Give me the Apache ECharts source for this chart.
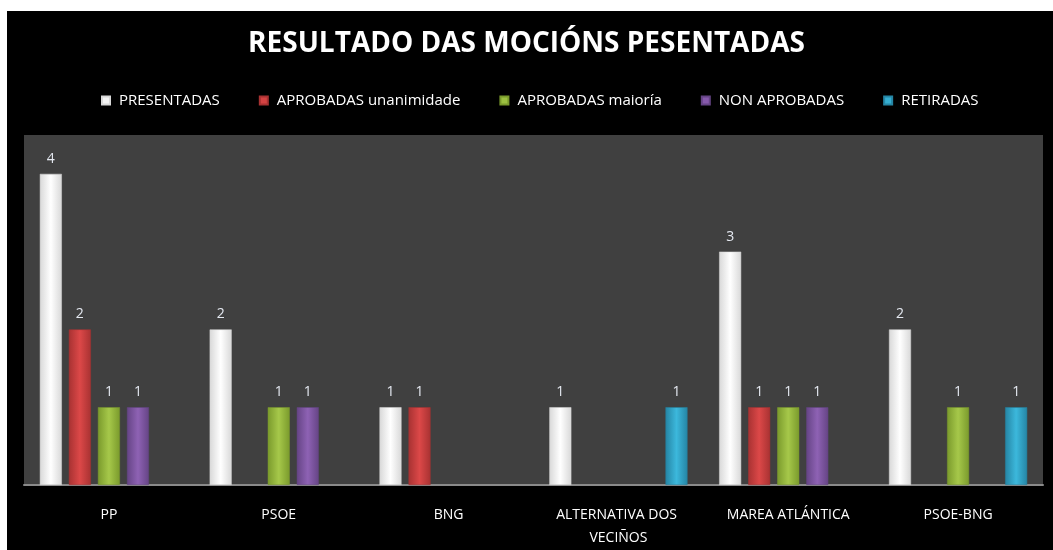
<!DOCTYPE html>
<html>
<head>
<meta charset="utf-8">
<script src="https://cdn.jsdelivr.net/npm/echarts@6/dist/echarts.min.js"></script>
<style>
  html, body { margin: 0; padding: 0; background: #fff; }
  #chart { width: 1053px; height: 550px; }
</style>
</head>
<body>
<div id="chart"></div>
<script>
var categories = ['PP', 'PSOE', 'BNG', 'ALTERNATIVA DOS VECIÑOS', 'MAREA ATLÁNTICA', 'PSOE-BNG'];
var presentadas = [4, 2, 1, 1, 3, 2];
var aprobadasUnanimidade = [2, '-', 1, '-', 1, '-'];
var aprobadasMaioria = [1, 1, '-', '-', 1, 1];
var nonAprobadas = [1, 1, '-', '-', 1, '-'];
var retiradas = ['-', '-', '-', 1, '-', 1];

var chartDom = document.getElementById('chart');
var myChart = echarts.init(chartDom);

function grad(edge, mid) {
  return new echarts.graphic.LinearGradient(0, 0, 1, 0, [
    { offset: 0, color: edge },
    { offset: 0.5, color: mid },
    { offset: 1, color: edge }
  ]);
}

function barSeries(name, data, edge, mid) {
  return {
    name: name,
    type: 'bar',
    data: data,
    barWidth: 22,
    barGap: '32%',
    itemStyle: {
      color: grad(edge, mid),
      borderColor: edge,
      borderWidth: 0.5
    },
    label: {
      show: true,
      position: 'top',
      distance: 8,
      color: '#e4e8f0',
      fontSize: 14,
      fontFamily: 'Open Sans'
    }
  };
}

var option = {
  backgroundColor: '#ffffff',
  textStyle: { fontFamily: 'Open Sans' },
  graphic: [
    {
      type: 'rect',
      left: 7,
      top: 11,
      z: -10,
      shape: { width: 1046, height: 539 },
      style: { fill: '#000000' }
    }
  ],
  title: {
    text: 'RESULTADO DAS MOCIÓNS PESENTADAS',
    left: 'center',
    top: 25,
    textStyle: {
      color: '#ffffff',
      fontSize: 28,
      fontWeight: 'bold',
      fontFamily: 'Open Sans'
    }
  },
  legend: {
    top: 88,
    left: 96,
    itemWidth: 8,
    itemHeight: 8,
    itemGap: 39,
    icon: 'rect',
    textStyle: { color: '#ffffff', fontSize: 15, padding: [0, 0, 0, 4] },
    data: [
      { name: 'PRESENTADAS', itemStyle: { color: '#f4f4f4' } },
      { name: 'APROBADAS unanimidade', itemStyle: { color: '#d44343' } },
      { name: 'APROBADAS maioría', itemStyle: { color: '#9cc041' } },
      { name: 'NON APROBADAS', itemStyle: { color: '#8659ab' } },
      { name: 'RETIRADAS', itemStyle: { color: '#35add0' } }
    ]
  },
  grid: {
    left: 24,
    right: 10,
    top: 135,
    bottom: 60,
    show: true,
    backgroundColor: '#404040',
    borderWidth: 0
  },
  xAxis: {
    type: 'category',
    data: categories,
    axisLine: { lineStyle: { color: '#8a8a8a', width: 2 } },
    axisTick: { show: false },
    axisLabel: {
      color: '#ffffff',
      fontSize: 14,
      margin: 19,
      lineHeight: 23,
      width: 150,
      overflow: 'break',
      interval: 0
    }
  },
  yAxis: {
    type: 'value',
    min: 0,
    max: 4.5,
    show: false,
    splitLine: { show: false }
  },
  series: [
    barSeries('PRESENTADAS', presentadas, '#d8d8d8', '#ffffff'),
    barSeries('APROBADAS unanimidade', aprobadasUnanimidade, '#a83232', '#dc4848'),
    barSeries('APROBADAS maioría', aprobadasMaioria, '#7a9a2c', '#a6c84a'),
    barSeries('NON APROBADAS', nonAprobadas, '#654485', '#8e62b4'),
    barSeries('RETIRADAS', retiradas, '#2585a4', '#3cb8dc')
  ]
};

myChart.setOption(option);
</script>
</body>
</html>
